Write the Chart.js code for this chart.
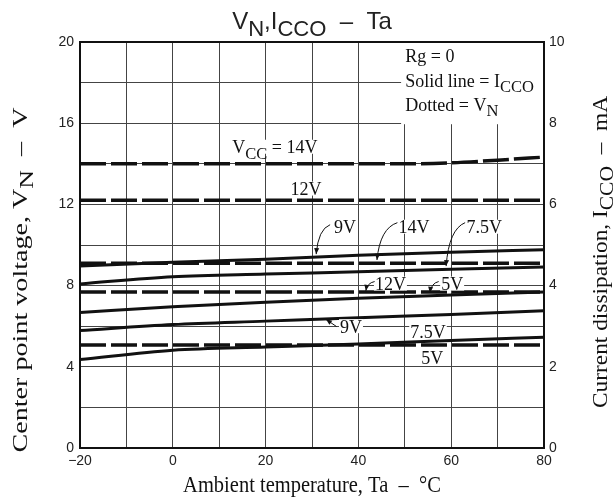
<!DOCTYPE html>
<html><head><meta charset="utf-8">
<script src="https://cdn.jsdelivr.net/npm/chart.js@4/dist/chart.umd.min.js"></script>
<style>html,body{margin:0;padding:0;background:#fff;}</style>
</head><body>
<canvas id="c" width="613" height="499" style="display:block;width:613px;height:499px"></canvas>
<script>
// ---- data ----
const temps = [-20, 0, 20, 40, 60, 80];                 // Ta, °C
// Current dissipation I_CCO (mA), solid lines
const iccoVcc14 = [4.48, 4.575, 4.65, 4.745, 4.82, 4.885];
const iccoVcc12 = [4.04, 4.22, 4.285, 4.34, 4.405, 4.46];
const iccoVcc9  = [3.34, 3.48, 3.59, 3.69, 3.77, 3.845];
const iccoVcc75 = [2.895, 3.04, 3.125, 3.21, 3.29, 3.38];
const iccoVcc5  = [2.18, 2.41, 2.49, 2.56, 2.65, 2.73];
// Center point voltage V_N (V), dashed lines
const vnTemps14 = [-20, 50, 60, 70, 80];
const vnVcc14   = [14.0, 14.0, 14.05, 14.18, 14.33];
const vnTempsFlat = [-20, 80];
const vnVcc12 = [12.2, 12.2];
const vnVcc9  = [9.1, 9.1];
const vnVcc75 = [7.69, 7.69];
const vnVcc5  = [5.08, 5.08];
// tick labels
const xTickLabels = [-20, 0, 20, 40, 60, 80];
const yLeftTickLabels = [0, 4, 8, 12, 16, 20];
const yRightTickLabels = [0, 2, 4, 6, 8, 10];

const pts = (xs, ys) => xs.map((x, i) => ({x, y: ys[i]}));

const SERIF = '"Liberation Serif", "Times New Roman", serif';
const SANS = '"Liberation Sans", Arial, sans-serif';

const solid = (d) => ({data: pts(temps, d), yAxisID: 'y2', borderColor: '#111', borderWidth: 3,
  pointRadius: 0, cubicInterpolationMode: 'monotone', fill: false});
const dashed = (xs, d) => ({data: pts(xs, d), yAxisID: 'y', borderColor: '#111', borderWidth: 3.5,
  borderDash: [26, 5], pointRadius: 0, cubicInterpolationMode: 'monotone', fill: false});

// annotation texts (positions in data units: x=°C, y=V on left axis, text centre)
const notes = [
  {p: [['V',0],['CC',1],[' = 14V',0]], x: 22.0, y: 14.84},
  {p: [['12V',0]], x: 28.7, y: 12.78},
  {p: [['9V',0]], x: 37.1, y: 10.9},
  {p: [['14V',0]], x: 52.0, y: 10.9},
  {p: [['7.5V',0]], x: 67.1, y: 10.9},
  {p: [['12V',0]], x: 46.9, y: 8.1},
  {p: [['5V',0]], x: 60.2, y: 8.1},
  {p: [['9V',0]], x: 38.4, y: 6.0},
  {p: [['7.5V',0]], x: 55.0, y: 5.75},
  {p: [['5V',0]], x: 55.9, y: 4.47}
];
const arrows = [
  {from: [33.9, 11.0], to: [30.9, 9.55]},
  {from: [48.4, 11.1], to: [44.0, 9.26]},
  {from: [63.0, 11.1], to: [58.9, 8.96]},
  {from: [43.5, 8.2], to: [41.6, 7.74]},
  {from: [57.3, 8.2], to: [55.4, 7.64]},
  {from: [35.3, 5.98], to: [33.0, 6.34], straight: true}
];

function richWidth(ctx, parts, size, fam) {
  let w = 0;
  for (const [t, sub] of parts) {
    ctx.font = (sub ? size * 0.92 : size) + 'px ' + fam;
    w += ctx.measureText(t).width;
  }
  return w;
}
function drawRich(ctx, parts, x, baseY, size, fam, align) {
  const w = richWidth(ctx, parts, size, fam);
  let cx = align === 'center' ? x - w / 2 : x;
  ctx.textBaseline = 'alphabetic';
  ctx.textAlign = 'left';
  for (const [t, sub] of parts) {
    ctx.font = (sub ? size * 0.92 : size) + 'px ' + fam;
    ctx.fillText(t, cx, baseY + (sub ? size * 0.3 : 0));
    cx += ctx.measureText(t).width;
  }
  return w;
}
// rotated title stretched to a given length along its direction
function drawVertical(ctx, parts, cx, cy, size, fam, length) {
  const w = richWidth(ctx, parts, size, fam);
  ctx.save();
  ctx.translate(cx, cy);
  ctx.rotate(-Math.PI / 2);
  ctx.scale(length / w, 1);
  drawRich(ctx, parts, 0, 0, size, fam, 'center');
  ctx.restore();
}

const decor = {
  id: 'decor',
  afterDatasetsDraw(chart) {
    const {ctx, chartArea: a, scales} = chart;
    const X = v => scales.x.getPixelForValue(v), Y = v => scales.y.getPixelForValue(v);
    ctx.save();
    ctx.fillStyle = '#111';
    ctx.strokeStyle = '#111';
    // legend box
    ctx.fillStyle = '#fff';
    ctx.fillRect(X(49.2), a.top, a.right - X(49.2), Y(15.95) - a.top);
    ctx.fillStyle = '#111';
    drawRich(ctx, [['Rg = 0',0]], X(50.1), a.top + 20, 18, SERIF, 'left');
    drawRich(ctx, [['Solid line = I',0],['CCO',1]], X(50.1), a.top + 45, 18, SERIF, 'left');
    drawRich(ctx, [['Dotted = V',0],['N',1]], X(50.1), a.top + 69, 18, SERIF, 'left');
    // annotations
    const size = 18;
    for (const n of notes) {
      const w = richWidth(ctx, n.p, size, SERIF);
      const cx = X(n.x), cy = Y(n.y);
      ctx.fillStyle = '#fff';
      ctx.fillRect(cx - w / 2 - 1, cy - 7, w + 2, 14);
      ctx.fillStyle = '#111';
      drawRich(ctx, n.p, cx, cy + 6.5, size, SERIF, 'center');
    }
    // arrows
    ctx.lineWidth = 1;
    for (const ar of arrows) {
      const x0 = X(ar.from[0]), y0 = Y(ar.from[1]), x1 = X(ar.to[0]), y1 = Y(ar.to[1]);
      let qx, qy;
      ctx.beginPath();
      ctx.moveTo(x0, y0);
      if (ar.straight) { qx = x0; qy = y0; ctx.lineTo(x1, y1); }
      else { qx = x1 + (x0 - x1) * 0.15; qy = y0 + (y1 - y0) * 0.15; ctx.quadraticCurveTo(qx, qy, x1, y1); }
      ctx.stroke();
      const ang = Math.atan2(y1 - qy, x1 - qx);
      const L = 6, W = 2.5;
      ctx.beginPath();
      ctx.moveTo(x1, y1);
      ctx.lineTo(x1 - L * Math.cos(ang) + W * Math.sin(ang), y1 - L * Math.sin(ang) - W * Math.cos(ang));
      ctx.lineTo(x1 - L * Math.cos(ang) - W * Math.sin(ang), y1 - L * Math.sin(ang) + W * Math.cos(ang));
      ctx.closePath();
      ctx.fill();
    }
    // frame
    ctx.lineWidth = 2;
    ctx.strokeRect(a.left, a.top, a.right - a.left, a.bottom - a.top);
    // title
    ctx.fillStyle = '#222';
    drawRich(ctx, [['V',0],['N',1],[',I',0],['CCO',1],['  \u2013  Ta',0]], (a.left + a.right) / 2, 29, 24, SANS, 'center');
    // x axis title (slightly taller glyphs, as in the scan)
    ctx.fillStyle = '#111';
    ctx.save();
    ctx.translate((a.left + a.right) / 2, 492);
    ctx.scale(1, 1.15);
    drawRich(ctx, [['Ambient temperature, Ta  \u2013  \u00B0C',0]], 0, 0, 20.5, SERIF, 'center');
    ctx.restore();
    // left axis title
    drawVertical(ctx, [['Center point voltage, V',0],['N',1],['  \u2013  V',0]], 27, 280, 20, SERIF, 345);
    // right axis title
    drawVertical(ctx, [['Current dissipation, I',0],['CCO',1],['  \u2013  mA',0]], 607, 252, 20, SERIF, 312);
    ctx.restore();
  }
};

new Chart(document.getElementById('c'), {
  type: 'line',
  data: {
    datasets: [
      solid(iccoVcc14), solid(iccoVcc12), solid(iccoVcc9), solid(iccoVcc75), solid(iccoVcc5),
      dashed(vnTemps14, vnVcc14), dashed(vnTempsFlat, vnVcc12), dashed(vnTempsFlat, vnVcc9),
      dashed(vnTempsFlat, vnVcc75), dashed(vnTempsFlat, vnVcc5)
    ]
  },
  options: {
    responsive: false, animation: false, devicePixelRatio: 1,
    layout: {padding: {top: 42, left: 0, right: 0, bottom: 0}},
    plugins: {legend: {display: false}, tooltip: {enabled: false}},
    scales: {
      x: {
        type: 'linear', min: -20, max: 80,
        afterFit: s => { s.height = 51; },
        afterBuildTicks: s => { s.ticks = [-20,-10,0,10,20,30,40,50,60,70,80].map(v => ({value: v})); },
        ticks: {autoSkip: false, maxRotation: 0, padding: 5, color: '#222', font: {family: SANS, size: 14},
          callback: v => xTickLabels.includes(v) ? (v < 0 ? '\u2212' + Math.abs(v) : String(v)) : ''},
        grid: {color: '#444', lineWidth: 1, drawTicks: false},
        border: {display: false}
      },
      y: {
        type: 'linear', position: 'left', min: 0, max: 20,
        afterFit: s => { s.width = 80; },
        ticks: {stepSize: 2, autoSkip: false, padding: 6, color: '#222', font: {family: SANS, size: 14},
          callback: v => yLeftTickLabels.includes(v) ? String(v) : ''},
        grid: {color: '#444', lineWidth: 1, drawTicks: false},
        border: {display: false}
      },
      y2: {
        type: 'linear', position: 'right', min: 0, max: 10,
        afterFit: s => { s.width = 69; },
        ticks: {stepSize: 1, autoSkip: false, padding: 5, color: '#222', font: {family: SANS, size: 14},
          callback: v => yRightTickLabels.includes(v) ? String(v) : ''},
        grid: {drawOnChartArea: false, drawTicks: false},
        border: {display: false}
      }
    }
  },
  plugins: [decor]
});
</script>
</body></html>
